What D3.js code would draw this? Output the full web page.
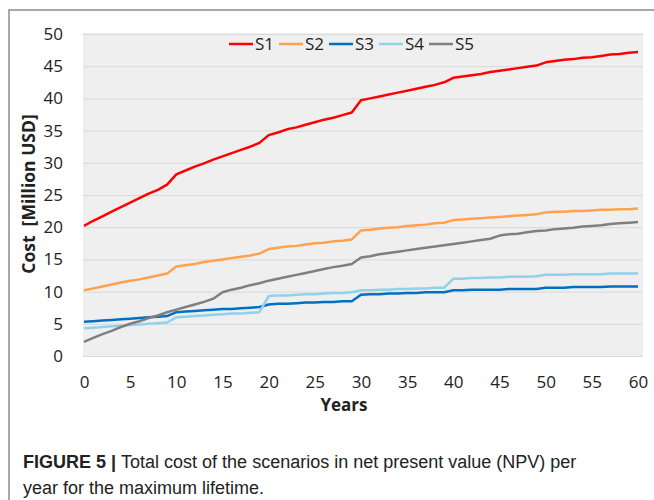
<!DOCTYPE html>
<html>
<head>
<meta charset="utf-8">
<script src="https://cdn.jsdelivr.net/npm/d3@7"></script>
<style>
  body { margin: 0; background: #fff; }
  .tick text { font-family: "Open Sans", sans-serif; font-size: 17px; fill: #222; }
  .axis path, .axis line { display: none; }
  .grid line { stroke: #d9d9d9; stroke-width: 1; }
  .grid path { display: none; }
</style>
</head>
<body>
<script>
const years = d3.range(0, 61);
const seriesNames = ["S1", "S2", "S3", "S4", "S5"];
const seriesColors = ["#ff0000", "#ffa24f", "#0070c0", "#8ed2ec", "#7f7f7f"];

const s1 = [20.2,21.0,21.7,22.4,23.1,23.8,24.5,25.2,25.8,26.6,
  28.2,28.8,29.4,29.9,30.5,31.0,31.5,32.0,32.5,33.1,
  34.3,34.7,35.2,35.5,35.9,36.3,36.7,37.0,37.4,37.8,
  39.7,40.0,40.3,40.6,40.9,41.2,41.5,41.8,42.1,42.5,
  43.2,43.4,43.6,43.8,44.1,44.3,44.5,44.7,44.9,45.1,
  45.6,45.8,46.0,46.1,46.3,46.4,46.6,46.8,46.9,47.1,47.2];
const s2 = [10.2,10.5,10.8,11.1,11.4,11.7,11.9,12.2,12.5,12.8,
  13.9,14.1,14.3,14.6,14.8,15.0,15.2,15.4,15.6,15.9,
  16.6,16.8,17.0,17.1,17.3,17.5,17.6,17.8,17.9,18.1,
  19.5,19.6,19.8,19.9,20.0,20.2,20.3,20.4,20.6,20.7,
  21.1,21.2,21.3,21.4,21.5,21.6,21.7,21.8,21.9,22.0,
  22.3,22.4,22.4,22.5,22.5,22.6,22.7,22.7,22.8,22.8,22.9];
const s3 = [5.3,5.4,5.5,5.6,5.7,5.8,5.9,6.0,6.1,6.2,
  6.8,6.9,7.0,7.1,7.2,7.3,7.3,7.4,7.5,7.6,
  8.0,8.1,8.1,8.2,8.3,8.3,8.4,8.4,8.5,8.5,
  9.5,9.6,9.6,9.7,9.7,9.8,9.8,9.9,9.9,9.9,
  10.2,10.2,10.3,10.3,10.3,10.3,10.4,10.4,10.4,10.4,
  10.6,10.6,10.6,10.7,10.7,10.7,10.7,10.8,10.8,10.8,10.8];
const s4 = [4.3,4.4,4.5,4.6,4.7,4.8,4.9,5.0,5.1,5.2,
  6.0,6.1,6.2,6.3,6.4,6.5,6.6,6.6,6.7,6.8,
  9.3,9.4,9.4,9.5,9.6,9.6,9.7,9.8,9.8,9.9,
  10.2,10.2,10.3,10.3,10.4,10.4,10.5,10.5,10.6,10.6,
  12.0,12.0,12.1,12.1,12.2,12.2,12.3,12.3,12.3,12.4,
  12.6,12.6,12.6,12.7,12.7,12.7,12.7,12.8,12.8,12.8,12.8];
const s5 = [2.2,2.8,3.4,3.9,4.5,5.0,5.4,5.9,6.3,6.8,
  7.2,7.6,8.0,8.4,8.9,9.9,10.3,10.6,11.0,11.3,
  11.7,12.0,12.3,12.6,12.9,13.2,13.5,13.8,14.0,14.3,
  15.3,15.5,15.8,16.0,16.2,16.4,16.6,16.8,17.0,17.2,
  17.4,17.6,17.8,18.0,18.2,18.7,18.9,19.0,19.2,19.4,
  19.5,19.7,19.8,19.9,20.1,20.2,20.3,20.5,20.6,20.7,20.8];
const seriesValues = [s1, s2, s3, s4, s5];

const xTicks = [0, 5, 10, 15, 20, 25, 30, 35, 40, 45, 50, 55, 60];
const yTicks = [0, 5, 10, 15, 20, 25, 30, 35, 40, 45, 50];

const svg = d3.select("body")
  .append("svg")
  .attr("width", 654)
  .attr("height", 500);

// frame around the figure
svg.append("path")
  .attr("d", "M9,500 V10 H654")
  .attr("fill", "none")
  .attr("stroke", "#8a8a8a")
  .attr("stroke-width", 1.5);

const xScale = d3.scaleLinear().domain([0, 60]).range([84, 638]);
const yScale = d3.scaleLinear().domain([0, 50]).range([356, 34]);

svg.append("rect")
  .attr("x", 83)
  .attr("y", 33)
  .attr("width", 560)
  .attr("height", 324)
  .attr("fill", "#efefef");

svg.append("g")
  .attr("class", "grid")
  .attr("transform", "translate(83,0)")
  .call(d3.axisLeft(yScale).tickValues(yTicks).tickSize(-560).tickFormat(""));

svg.append("g")
  .attr("class", "axis")
  .attr("transform", "translate(63,0)")
  .call(d3.axisLeft(yScale).tickValues(yTicks).tickSize(0).tickPadding(0).tickFormat(d3.format("d")));

svg.append("g")
  .attr("class", "axis")
  .attr("transform", "translate(0,376)")
  .call(d3.axisBottom(xScale).tickValues(xTicks).tickSize(0).tickPadding(0).tickFormat(d3.format("d")));

const line = d3.line()
  .x((d, i) => xScale(years[i]))
  .y(d => yScale(d));

seriesValues.forEach((vals, k) => {
  svg.append("path")
    .datum(vals)
    .attr("fill", "none")
    .attr("stroke", seriesColors[k])
    .attr("stroke-width", 2.5)
    .attr("stroke-linejoin", "round")
    .attr("d", line);
});

// legend
const legend = svg.append("g")
  .selectAll("g")
  .data(seriesNames)
  .enter()
  .append("g")
  .attr("transform", (d, i) => `translate(${229 + i * 50},44)`);

legend.append("line")
  .attr("x1", 0).attr("x2", 24)
  .attr("stroke", (d, i) => seriesColors[i])
  .attr("stroke-width", 2.5);

legend.append("text")
  .attr("x", 26)
  .attr("dy", "0.35em")
  .style("font-family", "'Open Sans', sans-serif")
  .style("font-size", "17px")
  .attr("fill", "#222")
  .text(d => d);

svg.append("text")
  .attr("transform", "translate(35,194) rotate(-90)")
  .attr("text-anchor", "middle")
  .style("font-family", "'Open Sans', sans-serif")
  .style("font-size", "17.5px")
  .style("font-weight", "bold")
  .style("white-space", "pre")
  .attr("fill", "#222")
  .text("Cost  [Million USD]");

svg.append("text")
  .attr("x", 344)
  .attr("y", 411)
  .attr("text-anchor", "middle")
  .style("font-family", "'Open Sans', sans-serif")
  .style("font-size", "17px")
  .style("font-weight", "bold")
  .attr("fill", "#222")
  .text("Years");

// caption
const cap = svg.append("text")
  .attr("x", 23)
  .attr("y", 468)
  .style("font-family", "'Liberation Sans', Arial, sans-serif")
  .style("font-size", "18px")
  .attr("fill", "#222");
cap.append("tspan").style("font-weight", "bold").text("FIGURE 5 | ");
cap.append("tspan").text("Total cost of the scenarios in net present value (NPV) per");

svg.append("text")
  .attr("x", 23)
  .attr("y", 494)
  .style("font-family", "'Liberation Sans', Arial, sans-serif")
  .style("font-size", "18px")
  .attr("fill", "#222")
  .text("year for the maximum lifetime.");
</script>
</body>
</html>
